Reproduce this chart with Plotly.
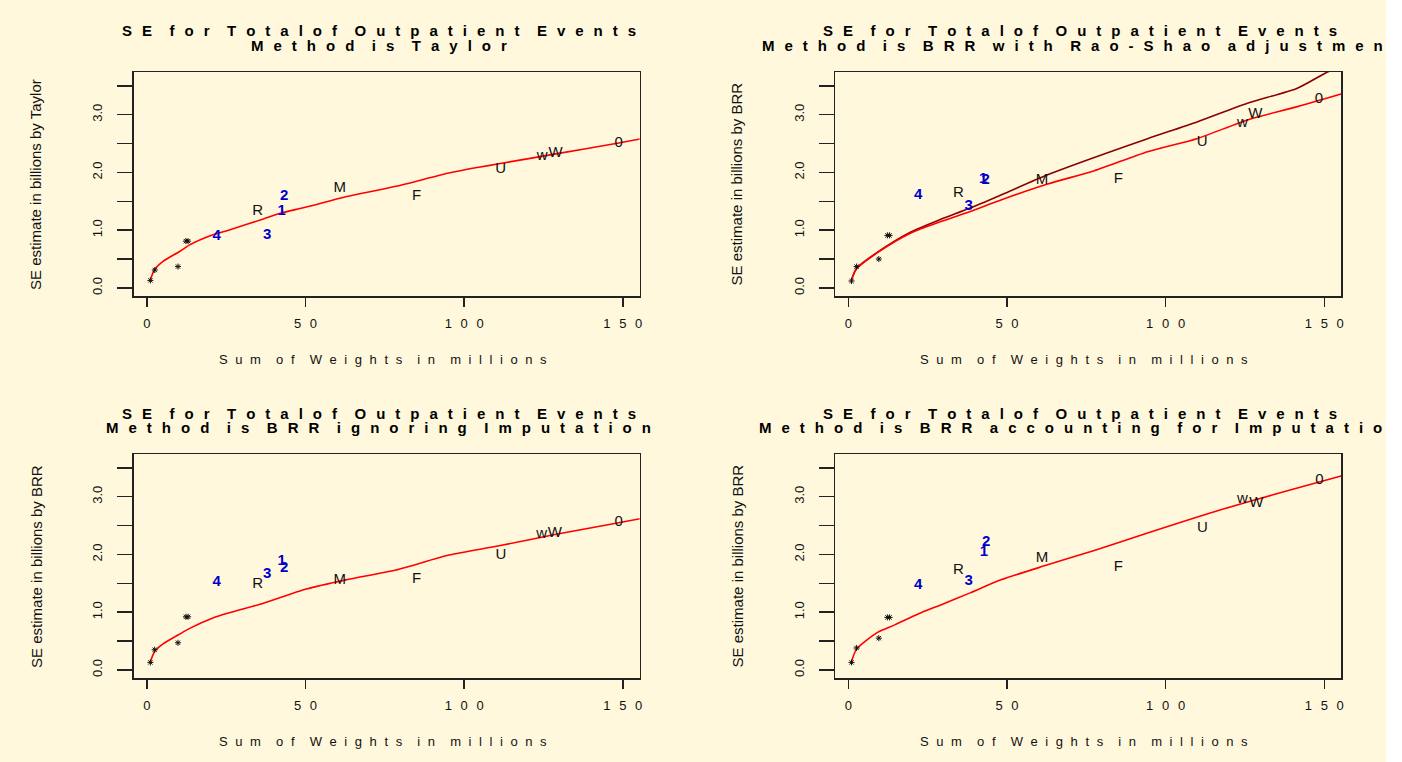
import plotly.graph_objects as go

# ---------------- data ----------------
# Panel 1: Taylor
taylor_x = [1.1, 2.45, 5.1, 10.3, 13.5, 20.8, 26.0, 36.5, 41.8, 50.2, 62.7, 78.5, 95.2, 104.6, 110.9, 129.8, 148.7, 155.5]
taylor_y = [0.14, 0.32, 0.46, 0.63, 0.745, 0.92, 1.005, 1.19, 1.29, 1.40, 1.58, 1.76, 1.99, 2.09, 2.15, 2.33, 2.51, 2.58]

# Panel 2: BRR with Rao-Shao adjustment (red = unadjusted, darkred = adjusted)
rs_red_x = [1.0, 2.6, 9.2, 19.7, 29.2, 38.2, 48.1, 62.8, 77.5, 94.3, 110.1, 125.8, 141.5, 155.3]
rs_red_y = [0.14, 0.33, 0.61, 0.95, 1.15, 1.32, 1.525, 1.80, 2.03, 2.36, 2.59, 2.91, 3.14, 3.36]
rs_dark_x = [1.0, 2.6, 9.2, 19.7, 29.2, 38.2, 48.1, 62.8, 77.5, 94.3, 110.1, 125.8, 141.5, 151.4, 155.3]
rs_dark_y = [0.14, 0.34, 0.62, 0.97, 1.19, 1.38, 1.61, 1.96, 2.26, 2.585, 2.88, 3.20, 3.46, 3.75, 3.82]

# Panel 3: BRR ignoring imputation
ign_x = [1.1, 2.45, 5.1, 10.3, 13.5, 20.8, 26.0, 36.5, 50.2, 62.7, 78.5, 95.2, 111.0, 129.0, 148.7, 155.5]
ign_y = [0.14, 0.32, 0.45, 0.62, 0.72, 0.90, 0.99, 1.15, 1.40, 1.56, 1.73, 1.99, 2.15, 2.35, 2.55, 2.62]

# Panel 4: BRR accounting for imputation
acc_x = [1.0, 2.6, 9.2, 14.6, 22.0, 29.3, 38.2, 48.1, 62.8, 77.5, 94.3, 110.0, 125.8, 141.5, 155.3]
acc_y = [0.145, 0.36, 0.65, 0.78, 0.97, 1.13, 1.33, 1.56, 1.82, 2.07, 2.37, 2.65, 2.91, 3.15, 3.36]

# labelled domains (digits drawn blue bold, letters black)
digit_labels = ["4", "3", "1", "2"]
letter_labels = ["R", "M", "F", "U", "w", "W", "0"]

p1_digit_x = [22.0, 37.9, 42.5, 43.3]
p1_digit_y = [0.90, 0.92, 1.32, 1.58]
p1_letter_x = [34.9, 60.8, 85.0, 111.5, 124.6, 128.8, 148.7]
p1_letter_y = [1.32, 1.72, 1.58, 2.06, 2.28, 2.33, 2.50]
p1_star_x = [1.1, 2.5, 9.8, 12.3, 13.0]
p1_star_y = [0.13, 0.31, 0.37, 0.81, 0.81]

p2_digit_x = [22.0, 37.9, 42.5, 43.3]
p2_digit_y = [1.61, 1.42, 1.88, 1.87]
p2_letter_x = [34.7, 61.0, 85.1, 111.5, 124.2, 128.3, 148.3]
p2_letter_y = [1.64, 1.87, 1.89, 2.52, 2.86, 3.00, 3.27]
p2_star_x = [1.0, 2.6, 9.6, 12.3, 13.0]
p2_star_y = [0.12, 0.37, 0.50, 0.91, 0.91]

p3_digit_x = [22.0, 37.9, 42.5, 43.3]
p3_digit_y = [1.51, 1.65, 1.88, 1.76]
p3_letter_x = [34.9, 60.8, 85.0, 111.6, 124.4, 128.6, 148.7]
p3_letter_y = [1.49, 1.55, 1.57, 1.98, 2.35, 2.37, 2.55]
p3_star_x = [1.1, 2.45, 9.8, 12.3, 13.0]
p3_star_y = [0.13, 0.35, 0.47, 0.92, 0.92]

p4_digit_x = [22.0, 37.9, 42.7, 43.4]
p4_digit_y = [1.46, 1.54, 2.03, 2.21]
p4_letter_x = [34.7, 61.0, 85.1, 111.6, 124.2, 128.6, 148.5]
p4_letter_y = [1.73, 1.94, 1.78, 2.46, 2.96, 2.89, 3.29]
p4_star_x = [1.0, 2.6, 9.6, 12.3, 13.0]
p4_star_y = [0.13, 0.38, 0.55, 0.91, 0.91]

x_tick_vals = [0, 50, 100, 150]
y_tick_vals = [0, 0.5, 1.0, 1.5, 2.0, 2.5, 3.0, 3.5]
y_tick_text = ["0.0", "", "1.0", "", "2.0", "", "3.0", ""]

title_main = "SE for Totalof Outpatient Events"
method_titles = ["Method is Taylor", "Method is BRR with Rao-Shao adjustment",
                 "Method is BRR ignoring Imputation", "Method is BRR accounting for Imputation"]
x_title = "Sum of Weights in millions"
y_titles = ["SE estimate in billions by Taylor", "SE estimate in billions by BRR",
            "SE estimate in billions by BRR", "SE estimate in billions by BRR"]

# ---------------- styling ----------------
W, H = 1386, 762
CREAM = "#FFF8DC"
FONT = "Liberation Sans, Arial, Helvetica, sans-serif"
RED = "#FF0000"
DARKRED = "#8B0000"
BLUE = "#0000CD"
INK = "#111111"


def spread(text, lg, wg):
    return wg.join(lg.join(list(w)) for w in text.split(" "))


def px(x):
    return x / W


def py(y):
    return 1 - y / H


# panel geometry in pixels
cols = [(134, 641), (837, 1344)]
rows = [(72, 296), (454, 678)]
XR = [-4.15, 155.3]
YR = [-0.14, 3.74]

fig = go.Figure()

panels = [
    (0, 0, [(taylor_x, taylor_y, RED)], p1_digit_x, p1_digit_y, p1_letter_x, p1_letter_y, p1_star_x, p1_star_y),
    (1, 0, [(rs_dark_x, rs_dark_y, DARKRED), (rs_red_x, rs_red_y, RED)], p2_digit_x, p2_digit_y, p2_letter_x, p2_letter_y, p2_star_x, p2_star_y),
    (0, 1, [(ign_x, ign_y, RED)], p3_digit_x, p3_digit_y, p3_letter_x, p3_letter_y, p3_star_x, p3_star_y),
    (1, 1, [(acc_x, acc_y, RED)], p4_digit_x, p4_digit_y, p4_letter_x, p4_letter_y, p4_star_x, p4_star_y),
]

TLG = "\u2002\u2006"          # title letter gap
TWG = "\u2002\u2002\u2006"    # title word gap
ALG = "\u2002\u200a"          # axis-title letter gap
AWG = "\u2002\u2002\u2006"    # axis-title word gap

annotations = []
for i, (c, r, lines, dx, dy, lx, ly, sx, sy) in enumerate(panels):
    n = "" if i == 0 else str(i + 1)
    xa, ya = "x" + n, "y" + n
    for (lx_, ly_, col) in lines:
        fig.add_trace(go.Scatter(x=lx_, y=ly_, mode="lines",
                                 line=dict(color=col, width=1.6, shape="spline", smoothing=0.7),
                                 xaxis=xa, yaxis=ya, hoverinfo="skip"))
    fig.add_trace(go.Scatter(x=sx, y=sy, mode="markers",
                             marker=dict(symbol="asterisk-open", size=5, color=INK,
                                         line=dict(color=INK, width=1)),
                             xaxis=xa, yaxis=ya, hoverinfo="skip"))
    fig.add_trace(go.Scatter(x=lx, y=ly, mode="text", text=letter_labels,
                             textfont=dict(family=FONT, size=15, color=INK),
                             xaxis=xa, yaxis=ya, hoverinfo="skip"))
    fig.add_trace(go.Scatter(x=dx, y=dy, mode="text", text=digit_labels,
                             textfont=dict(family=FONT, size=15, color=BLUE, weight="bold"),
                             xaxis=xa, yaxis=ya, hoverinfo="skip"))

    x0, x1 = cols[c]
    y0, y1 = rows[r]
    fig.layout["xaxis" + n] = dict(
        domain=[px(x0), px(x1)], range=XR, anchor=ya, showgrid=False, zeroline=False,
        showline=True, mirror=True, linecolor="#222", linewidth=1.5,
        ticks="outside", ticklen=9, tickwidth=1.5, tickcolor="#222",
        tickvals=x_tick_vals, ticktext=[spread(str(v), "\u2002\u2006", AWG) for v in x_tick_vals],
        tickfont=dict(family=FONT, size=13, color=INK), ticklabelstandoff=6,
        fixedrange=True)
    fig.layout["yaxis" + n] = dict(
        domain=[py(y1), py(y0)], range=YR, anchor=xa, showgrid=False, zeroline=False,
        showline=True, mirror=True, linecolor="#222", linewidth=1.5,
        ticks="outside", ticklen=15, tickwidth=1.5, tickcolor="#222",
        tickvals=y_tick_vals, ticktext=y_tick_text, tickangle=-90,
        tickfont=dict(family=FONT, size=13, color=INK), ticklabelstandoff=10,
        fixedrange=True)

    cx = (x0 + x1) / 2
    dyoff = r * 382
    annotations.append(dict(x=px(cx - 8), y=py(31 + dyoff), xref="paper", yref="paper",
                            text="<b>" + spread(title_main, TLG, TWG) + "</b>",
                            showarrow=False, xanchor="center", yanchor="middle",
                            font=dict(family=FONT, size=15, color="#000")))
    annotations.append(dict(x=px(cx - 8), y=py(45.5 + dyoff), xref="paper", yref="paper",
                            text="<b>" + spread(method_titles[i], TLG, TWG) + "</b>",
                            showarrow=False, xanchor="center", yanchor="middle",
                            font=dict(family=FONT, size=15, color="#000")))
    annotations.append(dict(x=px(cx - 4), y=py(359 + dyoff), xref="paper", yref="paper",
                            text=spread(x_title, ALG, AWG), showarrow=False,
                            xanchor="center", yanchor="middle",
                            font=dict(family=FONT, size=13, color=INK)))
    annotations.append(dict(x=px(x0 - 98), y=py((y0 + y1) / 2), xref="paper", yref="paper",
                            text=y_titles[i], textangle=-90, showarrow=False,
                            xanchor="center", yanchor="middle",
                            font=dict(family=FONT, size=15, color=INK)))

fig.update_layout(
    width=W, height=H, margin=dict(l=0, r=0, t=0, b=0),
    paper_bgcolor=CREAM, plot_bgcolor=CREAM, showlegend=False,
    annotations=annotations, hovermode=False,
)

fig.write_html("out.html", config={"displayModeBar": False, "staticPlot": True},
               post_script="document.body.style.margin='0';document.body.style.background='white';")
